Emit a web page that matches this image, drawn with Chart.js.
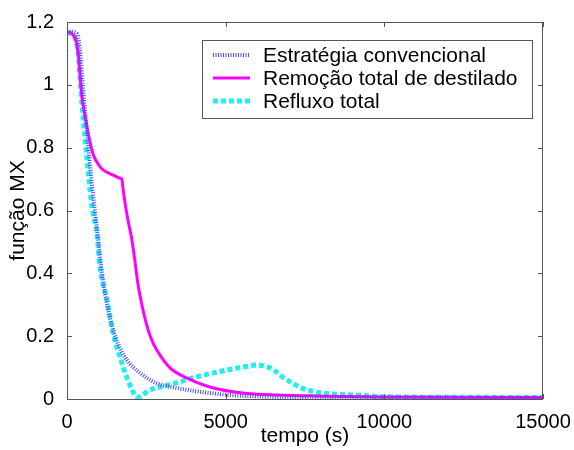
<!DOCTYPE html>
<html>
<head>
<meta charset="utf-8">
<script src="https://cdn.jsdelivr.net/npm/chart.js@4/dist/chart.umd.min.js"></script>
<style>
  body { margin: 0; background: #fff; }
</style>
</head>
<body>
<canvas id="myChart" width="574" height="450"></canvas>
<script>
// Estratégia convencional
const tConv = [0, 300, 400, 500, 600, 700, 800, 900, 1000, 1130, 1350, 1600, 1890, 2300, 2830, 3460, 4500, 5530, 7000, 9000, 15000];
const yConv = [1.17, 1.165, 1.12, 1.00, 0.88, 0.77, 0.67, 0.58, 0.49, 0.38, 0.26, 0.178, 0.124, 0.083, 0.05, 0.035, 0.019, 0.01, 0.006, 0.005, 0.004];

// Remoção total de destilado
const tRem = [0, 250, 350, 470, 570, 700, 820, 1000, 1130, 1400, 1700, 1730, 1760, 1820, 1920, 2040, 2140, 2230, 2360, 2500, 2660, 2830, 3240, 3770, 4500, 5530, 7640, 10000, 15000];
const yRem = [1.17, 1.15, 1.10, 0.96, 0.90, 0.83, 0.78, 0.745, 0.73, 0.715, 0.702, 0.70, 0.675, 0.63, 0.57, 0.51, 0.44, 0.37, 0.30, 0.24, 0.19, 0.156, 0.10, 0.067, 0.038, 0.019, 0.01, 0.006, 0.005];

// Refluxo total
const tRef = [0, 250, 350, 470, 570, 660, 790, 940, 1040, 1260, 1450, 1670, 1920, 2230, 2610, 2920, 3500, 3960, 5030, 5750, 5970, 6380, 6600, 6790, 7110, 7330, 7640, 8050, 9210, 10000, 15000];
const yRef = [1.166, 1.15, 1.10, 0.94, 0.83, 0.73, 0.61, 0.53, 0.42, 0.315, 0.21, 0.134, 0.06, 0.006, 0.029, 0.038, 0.053, 0.067, 0.092, 0.105, 0.108, 0.10, 0.086, 0.07, 0.05, 0.038, 0.027, 0.019, 0.012, 0.007, 0.005];

const xTicks = [0, 5000, 10000, 15000];
const yTicks = [0, 0.2, 0.4, 0.6, 0.8, 1, 1.2];

const FONT = "'Liberation Sans', Arial, sans-serif";

function pts(t, y) { return t.map((v, i) => ({ x: v, y: y[i] })); }

// frame with inward ticks, matlab style
const framePlugin = {
    id: 'frame',
    afterDraw(chart) {
        const { ctx, chartArea: a, scales } = chart;
        ctx.save();
        ctx.strokeStyle = '#555';
        ctx.lineWidth = 1;
        ctx.strokeRect(a.left + 0.5, a.top + 0.5, a.right - a.left - 1, a.bottom - a.top);
        ctx.beginPath();
        xTicks.forEach(v => {
            const px = Math.round(scales.x.getPixelForValue(v)) + 0.5;
            ctx.moveTo(px, a.bottom); ctx.lineTo(px, a.bottom - 5);
            ctx.moveTo(px, a.top); ctx.lineTo(px, a.top + 5);
        });
        yTicks.forEach(v => {
            const py = Math.round(scales.y.getPixelForValue(v)) + 0.5;
            ctx.moveTo(a.left, py); ctx.lineTo(a.left + 5, py);
            ctx.moveTo(a.right, py); ctx.lineTo(a.right - 5, py);
        });
        ctx.stroke();
        ctx.restore();
    }
};

// boxed legend inside the axes
const legendBox = {
    id: 'legendBox',
    afterDraw(chart) {
        const ctx = chart.ctx;
        const x0 = 202, y0 = 40, w = 330, h = 78;
        ctx.save();
        ctx.fillStyle = '#fff';
        ctx.fillRect(x0, y0, w, h);
        ctx.strokeStyle = '#555';
        ctx.lineWidth = 1;
        ctx.strokeRect(x0 + 0.5, y0 + 0.5, w, h);
        ctx.font = '21px ' + FONT;
        ctx.textBaseline = 'middle';
        ctx.fillStyle = '#000';
        chart.data.datasets.forEach((ds, i) => {
            const yy = y0 + 15 + i * 23;
            ctx.beginPath();
            ctx.strokeStyle = ds.borderColor;
            ctx.lineWidth = ds.borderWidth;
            ctx.setLineDash(ds.borderDash || []);
            ctx.moveTo(213, yy);
            ctx.lineTo(250, yy);
            ctx.stroke();
            ctx.setLineDash([]);
            ctx.fillText(ds.label, 263, yy + 1);
        });
        ctx.restore();
    }
};

new Chart(document.getElementById("myChart"), {
    type: 'line',
    data: {
        datasets: [
            {
                label: "Estratégia convencional",
                data: pts(tConv, yConv),
                borderColor: "#4a4aff",
                borderWidth: 4,
                borderDash: [1, 1.5],
                pointRadius: 0,
                cubicInterpolationMode: 'monotone'
            },
            {
                label: "Remoção total de destilado",
                data: pts(tRem, yRem),
                borderColor: "#ff00ff",
                borderWidth: 3,
                pointRadius: 0,
                cubicInterpolationMode: 'monotone'
            },
            {
                label: "Refluxo total",
                data: pts(tRef, yRef),
                borderColor: "#22eeee",
                borderWidth: 5,
                borderDash: [5, 3],
                pointRadius: 0,
                cubicInterpolationMode: 'monotone'
            }
        ]
    },
    options: {
        responsive: false,
        animation: false,
        maintainAspectRatio: false,
        layout: { padding: { top: 22, right: 31, left: 0, bottom: 0 } },
        plugins: {
            legend: { display: false },
            tooltip: { enabled: false }
        },
        scales: {
            x: {
                type: 'linear',
                min: 0, max: 15000,
                afterFit: s => { s.height = 51; },
                afterBuildTicks: s => { s.ticks = xTicks.map(v => ({ value: v })); },
                grid: { display: false },
                border: { display: false },
                ticks: { color: '#000', font: { family: FONT, size: 20 }, padding: 3, maxRotation: 0, callback: v => String(v) },
                title: { display: true, text: 'tempo (s)', color: '#000', font: { family: FONT, size: 21 }, padding: { top: 0, bottom: 1 } }
            },
            y: {
                min: 0, max: 1.2,
                afterFit: s => { s.width = 67; },
                afterBuildTicks: s => { s.ticks = yTicks.map(v => ({ value: v })); },
                grid: { display: false },
                border: { display: false },
                ticks: { color: '#000', font: { family: FONT, size: 20 }, padding: 5, callback: v => String(+v.toFixed(1)) },
                title: { display: true, text: 'função MX', color: '#000', font: { family: FONT, size: 21 }, padding: { top: 6, bottom: 0 } }
            }
        }
    },
    plugins: [framePlugin, legendBox]
});
</script>
</body>
</html>
